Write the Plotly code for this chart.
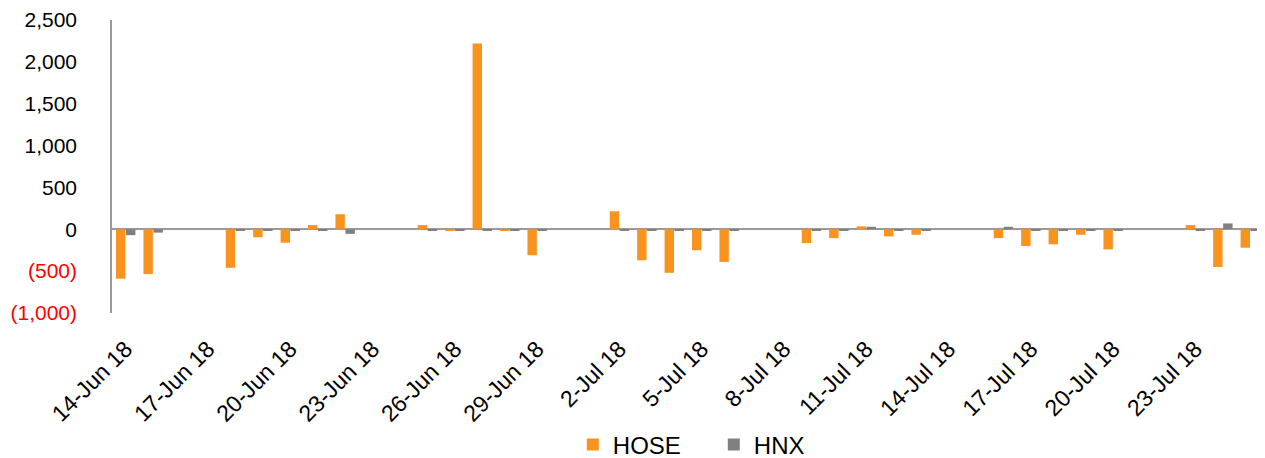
import plotly.graph_objects as go

dates = ["2018-06-14", "2018-06-15", "2018-06-18", "2018-06-19", "2018-06-20",
         "2018-06-21", "2018-06-22", "2018-06-25", "2018-06-26", "2018-06-27",
         "2018-06-28", "2018-06-29", "2018-07-02", "2018-07-03", "2018-07-04",
         "2018-07-05", "2018-07-06", "2018-07-09", "2018-07-10", "2018-07-11",
         "2018-07-12", "2018-07-13", "2018-07-16", "2018-07-17", "2018-07-18",
         "2018-07-19", "2018-07-20", "2018-07-23", "2018-07-24", "2018-07-25"]
hose = [-590, -535, -460, -95, -160, 50, 180, 50, -10, 2220,
        -10, -310, 215, -370, -520, -250, -390, -165, -105, 35,
        -85, -65, -105, -200, -180, -65, -240, 50, -450, -220]
hnx = [-70, -40, -15, -10, -15, -20, -55, -15, -15, -15,
       -10, -10, -10, -10, -15, -10, -15, -10, -10, 30,
       -10, -15, 30, -10, -10, -15, -10, -10, 70, -10]

y_tickvals = [-1000, -500, 0, 500, 1000, 1500, 2000, 2500]
y_ticktext = ['<span style="color:#ff0000">(1,000)</span>',
              '<span style="color:#ff0000">(500)</span>',
              "0", "500", "1,000", "1,500", "2,000", "2,500"]
x_tickvals = ["2018-06-14", "2018-06-17", "2018-06-20", "2018-06-23", "2018-06-26",
              "2018-06-29", "2018-07-02", "2018-07-05", "2018-07-08", "2018-07-11",
              "2018-07-14", "2018-07-17", "2018-07-20", "2018-07-23"]
x_ticktext = ["14-Jun 18", "17-Jun 18", "20-Jun 18", "23-Jun 18", "26-Jun 18",
              "29-Jun 18", "2-Jul 18", "5-Jul 18", "8-Jul 18", "11-Jul 18",
              "14-Jul 18", "17-Jul 18", "20-Jul 18", "23-Jul 18"]

FONT = "Liberation Sans, Arial, sans-serif"

fig = go.Figure()
fig.add_trace(go.Bar(x=dates, y=hose, name="HOSE", marker=dict(color="#F7931E", line=dict(width=0))))
fig.add_trace(go.Bar(x=dates, y=hnx, name="HNX", marker=dict(color="#808080", line=dict(width=0))))

fig.update_layout(
    width=1257, height=450,
    margin=dict(l=104, r=1, t=12, b=145, autoexpand=False),
    paper_bgcolor="white", plot_bgcolor="white",
    barmode="group", bargap=0.27, bargroupgap=0.06,
    font=dict(family=FONT, size=18, color="black"),
    showlegend=True,
    legend=dict(orientation="h", x=0.40, xanchor="left", y=-0.45, yanchor="middle",
                font=dict(size=24), entrywidth=96, itemwidth=30),
    xaxis=dict(
        type="date", automargin=False,
        range=["2018-06-13 12:00", "2018-07-25 12:00"],
        tickmode="array", tickvals=x_tickvals, ticktext=x_ticktext,
        tickangle=-45, tickfont=dict(size=23),
        showgrid=False, showline=False, zeroline=False,
        ticks="", ticklabelstandoff=17, ticklabeloverflow="allow",
    ),
    yaxis=dict(
        range=[-1000, 2500], automargin=False,
        tickmode="array", tickvals=y_tickvals, ticktext=y_ticktext,
        tickfont=dict(size=21),
        showgrid=False, showline=True, linecolor="#999999", linewidth=1.5,
        zeroline=True, zerolinecolor="#999999", zerolinewidth=1.5,
        ticks="", ticklabelstandoff=29, ticklabeloverflow="allow",
    ),
)

fig.write_html("out.html")
